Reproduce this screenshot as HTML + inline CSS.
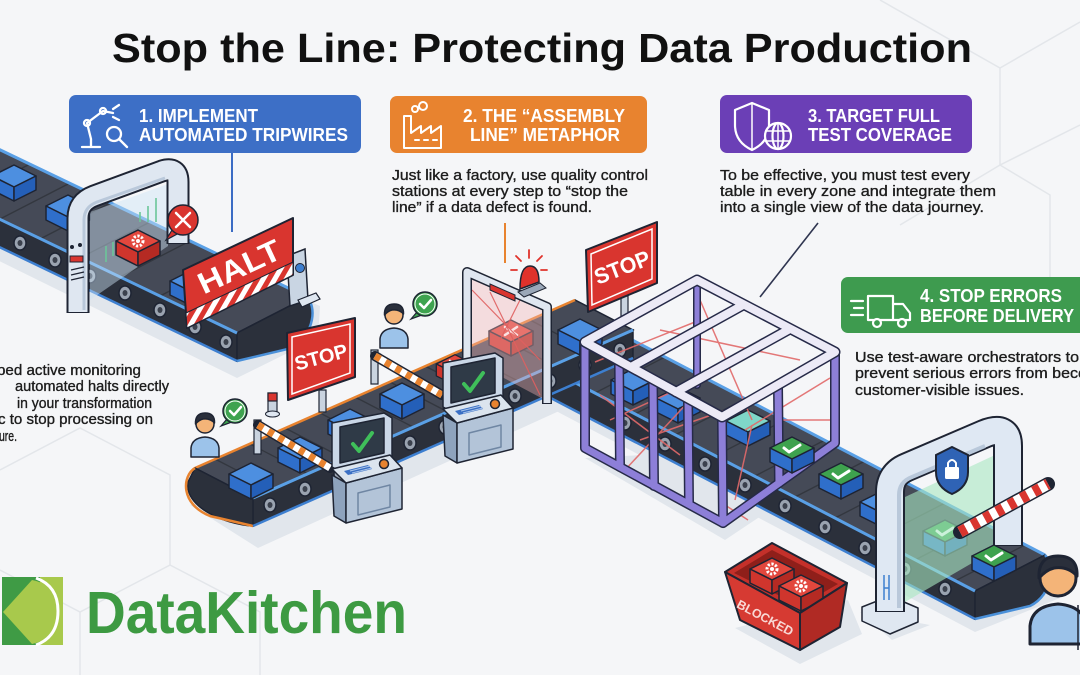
<!DOCTYPE html>
<html><head><meta charset="utf-8"><style>
html,body{margin:0;padding:0;background:#f5f6f8;}
svg{display:block;}
text{font-family:"Liberation Sans",Arial,sans-serif;}
</style></head><body>
<svg width="1080" height="675" viewBox="0 0 1080 675" xmlns="http://www.w3.org/2000/svg">
<defs>
 <pattern id="hz" width="10" height="10" patternUnits="userSpaceOnUse" patternTransform="rotate(30)"><rect width="10" height="10" fill="#fff"/><rect width="5" height="10" fill="#d9352f"/></pattern>
 <g id="roll"><ellipse rx="6" ry="7" fill="#9aa3b0" stroke="#1e2433" stroke-width="1.5"/><ellipse rx="2.5" ry="3" fill="#3b414d"/></g>
 <g id="cb" stroke="#1e2433" stroke-width="1.5" stroke-linejoin="round">
  <path d="M-22,0L0,-11L22,0L0,11Z" fill="#4d8fe0"/>
  <path d="M-22,0L0,11L0,25L-22,14Z" fill="#2f6fcb"/>
  <path d="M0,11L22,0L22,14L0,25Z" fill="#245fb8"/>
 </g>
 <g id="cg" stroke="#1e2433" stroke-width="1.5" stroke-linejoin="round">
  <path d="M-22,0L0,-11L22,0L0,11Z" fill="#3ea24e"/>
  <path d="M-22,0L0,11L0,25L-22,14Z" fill="#2f6fcb"/>
  <path d="M0,11L22,0L22,14L0,25Z" fill="#245fb8"/>
  <path d="M-8,0L-3,4L8,-3" fill="none" stroke="#fff" stroke-width="3" stroke-linecap="round"/>
 </g>
 <g id="cc" stroke="#1e2433" stroke-width="1.5" stroke-linejoin="round">
  <path d="M-22,0L0,-11L22,0L0,11Z" fill="#7fd6c8"/>
  <path d="M-22,0L0,11L0,25L-22,14Z" fill="#2f6fcb"/>
  <path d="M0,11L22,0L22,14L0,25Z" fill="#245fb8"/>
 </g>
 <g id="cr" stroke="#1e2433" stroke-width="1.5" stroke-linejoin="round">
  <path d="M-22,0L0,-11L22,0L0,11Z" fill="#e2473d"/>
  <path d="M-22,0L0,11L0,25L-22,14Z" fill="#cf352d"/>
  <path d="M0,11L22,0L22,14L0,25Z" fill="#b52a23"/>
  <path d="M-6,-4L6,4M6,-4L-6,4" fill="none" stroke="#fff" stroke-width="2.5" stroke-linecap="round"/>
 </g>
 <g id="cgear" stroke="#1e2433" stroke-width="1.5" stroke-linejoin="round">
  <path d="M-22,0L0,-11L22,0L0,11Z" fill="#e2473d"/>
  <path d="M-22,0L0,11L0,25L-22,14Z" fill="#cf352d"/>
  <path d="M0,11L22,0L22,14L0,25Z" fill="#b52a23"/>
  <circle r="5" fill="none" stroke="#fff" stroke-width="3" stroke-dasharray="2.2 1.6"/>
  <circle r="2" fill="#fff" stroke="none"/>
 </g>
 <g id="person" stroke="#1e2433" stroke-width="1.5" stroke-linejoin="round">
  <path d="M-14,33L-14,24Q-13,14 0,13Q13,14 14,24L14,33Z" fill="#9cc3ea"/>
  <circle r="9" fill="#f4b478"/>
  <path d="M-9.5,0Q-10,-11 0,-11Q10,-11 9.5,-1Q5,-6 -2,-5Q-6,-4 -9.5,0Z" fill="#2a2f3b"/>
 </g>
 <g id="bub">
  <path d="M-8,8L-14,15L-3,11Z" fill="#3ea34f" stroke="#1e2433" stroke-width="1.2"/>
  <circle r="12" fill="#3ea34f" stroke="#1e2433" stroke-width="1.5"/>
  <circle r="10" fill="none" stroke="#fff" stroke-width="1"/>
  <path d="M-5,0L-1,4L6,-4" fill="none" stroke="#fff" stroke-width="2.5" stroke-linecap="round" stroke-linejoin="round"/>
 </g>
 <g id="kiosk" stroke="#1e2433" stroke-width="1.5" stroke-linejoin="round">
  <polygon points="0,10 52,0 60,5 60,46 8,58 0,54" fill="#cad7e7"/>
  <polygon points="8,14 52,5 52,40 8,50" fill="#2f3a47"/>
  <polyline points="21,31 27,38 40,20" fill="none" stroke="#3fbf5a" stroke-width="4" stroke-linecap="round"/>
  <polygon points="0,62 14,70 14,110 2,103" fill="#8ea3bd"/>
  <polygon points="14,70 70,55 70,96 14,110" fill="#b3c4d8"/>
  <polygon points="26,80 58,72 58,94 26,102" fill="none" stroke="#6f86a3"/>
  <polygon points="0,56 58,42 70,55 14,70" fill="#dbe4ee"/>
  <g fill="#3a6fc4" stroke="none">
   <polygon points="12,58 36,52 40,56 16,62"/>
  </g>
  <path d="M18,58L38,53M20,60L40,55" stroke="#a9c4ea" stroke-width="1"/>
  <circle cx="52" cy="51" r="4.5" fill="#e8832f"/>
 </g>
</defs>

<!-- background -->
<rect width="1080" height="675" fill="#f5f6f8"/>
<g stroke="#e3e6ea" stroke-width="1.5" fill="none">
 <path d="M880,0 L1000,68 L1080,22"/>
 <path d="M1000,68 L1000,165 L1080,125"/>
 <path d="M1000,165 L1050,195 L1050,290"/>
 <path d="M1000,165 L900,225"/>
 <path d="M0,470 L80,428 L170,475 L170,565 L80,612 L0,570"/>
 <path d="M170,565 L260,612 L260,675"/>
 <path d="M80,612 L80,675"/>
</g>

<!-- shadows -->
<g fill="#e1e6ec">
 <polygon points="-80,222 237,378 318,338 320,306 0,165"/>
 <polygon points="190,505 258,548 645,372 600,330"/>
 <polygon points="520,392 975,632 1060,598 1060,570 600,345"/>
 <polygon points="585,458 725,540 852,455 838,445"/>
 <polygon points="735,628 800,664 862,634 848,600"/>
 <polygon points="860,612 892,640 930,625"/>
</g>

<!-- ===== TOP-LEFT CONVEYOR ===== -->
<polygon points="-10,145 307,297 237,333 -80,181" fill="#454a57" stroke="#1e2433" stroke-width="1.5"/>
<g stroke="#33373f" stroke-width="1.3">
 <line x1="30" y1="164" x2="-40" y2="200"/><line x1="70" y1="183" x2="0" y2="219"/>
 <line x1="110" y1="203" x2="40" y2="239"/><line x1="150" y1="222" x2="80" y2="258"/>
 <line x1="190" y1="241" x2="120" y2="277"/><line x1="230" y1="260" x2="160" y2="296"/>
 <line x1="270" y1="279" x2="200" y2="315"/>
</g>
<line x1="-10" y1="145" x2="307" y2="297" stroke="#5aa0e6" stroke-width="3"/>
<polygon points="-80,181 237,333 237,361 -80,209" fill="#2b303b" stroke="#1e2433" stroke-width="1.5"/>
<path d="M307,297 C316,306 316,332 292,348 L237,361 L237,333 Z" fill="#2b303b" stroke="#1e2433" stroke-width="1.5"/>
<path d="M307,297 C316,306 316,332 292,348 L237,361" fill="none" stroke="#4a90d9" stroke-width="2.5"/>
<line x1="-80" y1="181" x2="237" y2="333" stroke="#5aa0e6" stroke-width="3"/>
<line x1="-80" y1="209" x2="237" y2="361" stroke="#3d7fd0" stroke-width="2.5"/>
<use href="#roll" x="20" y="243"/><use href="#roll" x="55" y="260"/><use href="#roll" x="90" y="276"/>
<use href="#roll" x="125" y="293"/><use href="#roll" x="160" y="310"/><use href="#roll" x="195" y="327"/><use href="#roll" x="226" y="342"/>
<use href="#cb" x="14" y="176"/>
<use href="#cb" x="68" y="206"/>
<!-- glass -->
<polygon points="90,212 168,184 168,246 90,300" fill="#cfe4f6" opacity="0.45"/>
<g stroke="#6cc79a" stroke-width="2" opacity="0.8">
 <line x1="106" y1="246" x2="106" y2="262"/><line x1="113" y1="242" x2="113" y2="256"/><line x1="140" y1="212" x2="140" y2="222"/><line x1="148" y1="206" x2="148" y2="222"/><line x1="156" y1="198" x2="156" y2="222"/>
</g>
<!-- arch -->
<path d="M78,313 L78,218 Q78,202 94,196 L162,171 Q178,166 178,182 L178,244" fill="none" stroke="#1e2433" stroke-width="23" stroke-linejoin="round"/>
<path d="M78,312 L78,218 Q78,202 94,196 L162,171 Q178,166 178,182 L178,243" fill="none" stroke="#dfe7f1" stroke-width="19" stroke-linejoin="round"/>
<path d="M84,310 L84,220 Q84,207 97,202 L165,178" fill="none" stroke="#b9c8da" stroke-width="3"/>
<rect x="70" y="256" width="13" height="6" fill="#d9352f" stroke="#1e2433"/>
<circle cx="72" cy="247" r="2" fill="#1e2433"/><circle cx="80" cy="245" r="2" fill="#1e2433"/>
<path d="M71,270 L84,267 M71,275 L84,272 M71,280 L84,277" stroke="#1e2433" stroke-width="1.2"/>
<use href="#cgear" x="138" y="241"/>
<use href="#cb" x="192" y="281"/>
<!-- tool bubble -->
<path d="M172,230 L166,240 L179,233 Z" fill="#d9352f" stroke="#1e2433" stroke-width="1.2"/>
<circle cx="183" cy="220" r="15" fill="#d9352f" stroke="#1e2433" stroke-width="1.5"/>
<path d="M176,213 L190,227 M190,213 L176,227" stroke="#fff" stroke-width="2.5" stroke-linecap="round"/>
<!-- right support -->
<polygon points="287,256 305,249 308,300 290,306" fill="#c9d5e3" stroke="#1e2433" stroke-width="1.5"/>
<circle cx="300" cy="268" r="4.5" fill="#3d7fd0" stroke="#1e2433"/>
<polygon points="298,300 316,293 320,299 302,307" fill="#dfe7f1" stroke="#1e2433" stroke-width="1.2"/>
<!-- HALT -->
<polygon points="183,270 293,218 293,275 187,328" fill="#d9352f" stroke="#1e2433" stroke-width="2" stroke-linejoin="round"/>
<polygon points="186,313 293,262 293,275 187,328" fill="url(#hz)" stroke="#1e2433" stroke-width="1"/>
<text transform="translate(239,266) rotate(-25)" y="11" font-size="30" font-weight="bold" fill="#fff" text-anchor="middle" textLength="88" lengthAdjust="spacingAndGlyphs">HALT</text>

<!-- ===== RIGHT CONVEYOR ===== -->
<polygon points="590,318 1045,555 975,591 520,354" fill="#454a57" stroke="#1e2433" stroke-width="1.5"/>
<g stroke="#33373f" stroke-width="1.3">
 <line x1="625" y1="336" x2="555" y2="372"/><line x1="665" y1="357" x2="595" y2="393"/>
 <line x1="705" y1="378" x2="635" y2="414"/><line x1="745" y1="399" x2="675" y2="435"/>
 <line x1="785" y1="420" x2="715" y2="456"/><line x1="825" y1="440" x2="755" y2="476"/>
 <line x1="865" y1="461" x2="795" y2="497"/><line x1="905" y1="482" x2="835" y2="518"/>
 <line x1="945" y1="503" x2="875" y2="539"/><line x1="985" y1="524" x2="915" y2="560"/>
 <line x1="1025" y1="545" x2="955" y2="581"/>
</g>
<line x1="590" y1="318" x2="1045" y2="555" stroke="#5aa0e6" stroke-width="3"/>
<polygon points="520,354 975,591 975,619 520,382" fill="#2b303b" stroke="#1e2433" stroke-width="1.5"/>
<path d="M1045,555 C1054,564 1054,594 1030,606 L975,619 L975,591 Z" fill="#2b303b" stroke="#1e2433" stroke-width="1.5"/>
<path d="M1045,555 C1054,564 1054,594 1030,606 L975,619" fill="none" stroke="#4a90d9" stroke-width="2.5"/>
<line x1="520" y1="354" x2="975" y2="591" stroke="#5aa0e6" stroke-width="3"/>
<line x1="520" y1="382" x2="975" y2="619" stroke="#3d7fd0" stroke-width="2.5"/>
<use href="#roll" x="625" y="423"/><use href="#roll" x="665" y="444"/><use href="#roll" x="705" y="464"/>
<use href="#roll" x="745" y="485"/><use href="#roll" x="785" y="506"/><use href="#roll" x="825" y="527"/>
<use href="#roll" x="865" y="548"/><use href="#roll" x="905" y="569"/><use href="#roll" x="945" y="589"/>
<!-- boxes inside cage -->
<use href="#cb" x="633" y="380"/>
<use href="#cb" x="678" y="398"/>
<use href="#cc" x="748" y="421"/>

<!-- ===== MIDDLE CONVEYOR ===== -->
<polygon points="195,468 575,300 633,330 253,498" fill="#454a57" stroke="#1e2433" stroke-width="1.5"/>
<g stroke="#33373f" stroke-width="1.3">
 <line x1="215" y1="459" x2="273" y2="489"/><line x1="250" y1="444" x2="308" y2="474"/>
 <line x1="285" y1="428" x2="343" y2="458"/><line x1="320" y1="413" x2="378" y2="443"/>
 <line x1="355" y1="397" x2="413" y2="427"/><line x1="390" y1="382" x2="448" y2="412"/>
 <line x1="425" y1="366" x2="483" y2="396"/><line x1="460" y1="351" x2="518" y2="381"/>
 <line x1="495" y1="335" x2="553" y2="365"/><line x1="530" y1="320" x2="588" y2="350"/>
</g>
<line x1="195" y1="468" x2="575" y2="300" stroke="#e8832f" stroke-width="2.5"/>
<polygon points="253,498 633,330 633,358 253,526" fill="#2b303b" stroke="#1e2433" stroke-width="1.5"/>
<path d="M195,468 L253,498 L253,526 C222,524 184,506 188,482 Z" fill="#2b303b" stroke="#1e2433" stroke-width="1.5"/>
<path d="M195,468 C182,476 180,504 210,516 L253,526" fill="none" stroke="#e8832f" stroke-width="2.5"/>
<line x1="253" y1="498" x2="633" y2="330" stroke="#5aa0e6" stroke-width="3"/>
<line x1="253" y1="526" x2="633" y2="358" stroke="#3d7fd0" stroke-width="2.5"/>
<use href="#roll" x="270" y="505"/><use href="#roll" x="305" y="489"/><use href="#roll" x="340" y="474"/>
<use href="#roll" x="375" y="458"/><use href="#roll" x="410" y="443"/><use href="#roll" x="445" y="427"/>
<use href="#roll" x="480" y="412"/><use href="#roll" x="515" y="396"/><use href="#roll" x="550" y="381"/>
<use href="#roll" x="585" y="365"/><use href="#roll" x="620" y="350"/>
<use href="#cb" x="580" y="330"/>
<use href="#cb" x="402" y="394"/>
<use href="#cb" x="350" y="420"/>
<use href="#cb" x="300" y="448"/>
<use href="#cb" x="251" y="474"/>
<use href="#cr" x="511" y="331"/>
<use href="#cr" x="455" y="364" transform="translate(455,364) scale(0.85) translate(-455,-364)"/>

<!-- red scanner gate -->
<polygon points="470,278 545,312 545,400 470,360" fill="#f2b6b6" opacity="0.4"/>
<g stroke="#e06060" stroke-width="1.2" opacity="0.9">
 <line x1="472" y1="290" x2="540" y2="360"/><line x1="490" y1="292" x2="540" y2="395"/><line x1="520" y1="300" x2="500" y2="340"/>
</g>
<path d="M467,362 L467,272 L547,307 L547,404" fill="none" stroke="#1e2433" stroke-width="10" stroke-linejoin="round"/>
<path d="M467,361 L467,272 L547,307 L547,403" fill="none" stroke="#dfe6f0" stroke-width="7" stroke-linejoin="round"/>
<polygon points="490,284 515,295 515,301 490,290" fill="#d9352f" stroke="#1e2433"/>
<polygon points="518,292 540,283 546,288 524,297" fill="#9aa7b8" stroke="#1e2433"/>
<path d="M520,289 Q520,266 530,266 Q539,266 539,282 Z" fill="#e0322b" stroke="#1e2433" stroke-width="1.5"/>
<g stroke="#e0322b" stroke-width="1.8" stroke-linecap="round">
 <line x1="529" y1="250" x2="529" y2="258"/><line x1="516" y1="256" x2="521" y2="261"/><line x1="542" y1="256" x2="537" y2="261"/>
 <line x1="511" y1="270" x2="517" y2="270"/><line x1="547" y1="270" x2="541" y2="270"/>
</g>

<!-- barriers & small post -->
<rect x="268" y="393" width="9" height="20" fill="#c9d3df" stroke="#1e2433" stroke-width="1.2"/>
<rect x="268" y="393" width="9" height="8" fill="#d9352f" stroke="#1e2433" stroke-width="1.2"/>
<ellipse cx="272.5" cy="414" rx="7" ry="3" fill="#dfe7f1" stroke="#1e2433"/>
<rect x="254" y="420" width="7" height="34" fill="#c9d3df" stroke="#1e2433" stroke-width="1.2"/>
<line x1="258" y1="425" x2="330" y2="468" stroke="#1e2433" stroke-width="10" stroke-linecap="round"/>
<line x1="258" y1="425" x2="330" y2="468" stroke="#fff" stroke-width="7"/>
<line x1="258" y1="425" x2="330" y2="468" stroke="#e8832f" stroke-width="7" stroke-dasharray="6 6"/>
<rect x="371" y="350" width="7" height="34" fill="#c9d3df" stroke="#1e2433" stroke-width="1.2"/>
<line x1="375" y1="356" x2="442" y2="395" stroke="#1e2433" stroke-width="10" stroke-linecap="round"/>
<line x1="375" y1="356" x2="442" y2="395" stroke="#fff" stroke-width="7"/>
<line x1="375" y1="356" x2="442" y2="395" stroke="#e8832f" stroke-width="7" stroke-dasharray="6 6"/>

<!-- kiosks -->
<use href="#kiosk" x="443" y="353"/>
<use href="#kiosk" x="332" y="413"/>

<!-- persons -->
<use href="#person" x="394" y="315"/>
<use href="#bub" x="425" y="304"/>
<use href="#person" x="205" y="424"/>
<use href="#bub" x="235" y="411"/>

<!-- STOP signs -->
<rect x="319" y="390" width="7" height="22" fill="#c9d3df" stroke="#1e2433" stroke-width="1.2"/>
<polygon points="287,333 355,318 355,377 288,400" fill="#d9352f" stroke="#1e2433" stroke-width="2" stroke-linejoin="round"/>
<polygon points="292,337 350,324 350,373 292,394" fill="none" stroke="#fff" stroke-width="1.5"/>
<text transform="translate(321,357) rotate(-15)" y="7" font-size="20" font-weight="bold" fill="#fff" text-anchor="middle" textLength="54" lengthAdjust="spacingAndGlyphs">STOP</text>
<rect x="621" y="296" width="7" height="26" fill="#c9d3df" stroke="#1e2433" stroke-width="1.2"/>
<polygon points="586,250 657,222 657,283 588,312" fill="#d9352f" stroke="#1e2433" stroke-width="2" stroke-linejoin="round"/>
<polygon points="591,254 652,229 652,279 592,305" fill="none" stroke="#fff" stroke-width="1.5"/>
<text transform="translate(622,267) rotate(-21)" y="8" font-size="22" font-weight="bold" fill="#fff" text-anchor="middle" textLength="58" lengthAdjust="spacingAndGlyphs">STOP</text>

<!-- ===== CAGE ===== -->
<g stroke="#e26a6a" stroke-width="1.5" opacity="0.9">
 <line x1="595" y1="362" x2="700" y2="320"/><line x1="610" y1="420" x2="720" y2="370"/>
 <line x1="640" y1="440" x2="760" y2="398"/><line x1="600" y1="395" x2="680" y2="455"/>
 <line x1="700" y1="300" x2="752" y2="420"/><line x1="745" y1="430" x2="830" y2="378"/>
 <line x1="752" y1="425" x2="735" y2="500"/><line x1="725" y1="505" x2="748" y2="520"/>
 <line x1="660" y1="330" x2="800" y2="360"/><line x1="625" y1="470" x2="690" y2="400"/>
 <line x1="780" y1="420" x2="830" y2="420"/>
</g>
<g fill="none" stroke-linecap="round" stroke-linejoin="round">
 <line x1="697" y1="280" x2="697" y2="385" stroke="#262a48" stroke-width="8"/>
 <line x1="697" y1="280" x2="697" y2="385" stroke="#8d7fd8" stroke-width="5"/>
 <g stroke="#262a48" stroke-width="10">
  <path d="M585,342 L585,448 L723,523 L835,443 L835,352"/>
  <line x1="619" y1="361" x2="620" y2="467"/><line x1="653" y1="380" x2="654" y2="486"/>
  <line x1="688" y1="398" x2="689" y2="504"/><line x1="722" y1="417" x2="723" y2="523"/>
  <line x1="778" y1="385" x2="779" y2="483"/>
 </g>
 <g stroke="#8d7fd8" stroke-width="7">
  <path d="M585,342 L585,448 L723,523 L835,443 L835,352"/>
  <line x1="619" y1="361" x2="620" y2="467"/><line x1="653" y1="380" x2="654" y2="486"/>
  <line x1="688" y1="398" x2="689" y2="504"/><line x1="722" y1="417" x2="723" y2="523"/>
  <line x1="778" y1="385" x2="779" y2="483"/>
 </g>
 <g stroke="#262a48" stroke-width="11">
  <path d="M585,342 L697,280 L835,352 L722,417 Z"/>
  <line x1="631" y1="367" x2="743" y2="305"/><line x1="676" y1="392" x2="788" y2="330"/>
 </g>
 <g stroke="#eceaf6" stroke-width="8">
  <path d="M585,342 L697,280 L835,352 L722,417 Z"/>
  <line x1="631" y1="367" x2="743" y2="305"/><line x1="676" y1="392" x2="788" y2="330"/>
 </g>
</g>

<!-- right belt boxes -->
<use href="#cg" x="792" y="448"/>
<use href="#cg" x="841" y="474"/>
<use href="#cb" x="882" y="502"/>
<use href="#cg" x="945" y="531"/>

<!-- right gate -->
<polygon points="905,497 995,455 998,548 905,602" fill="#a9e8c2" opacity="0.6"/>
<polygon points="862,607 890,596 918,608 918,622 890,634 862,621" fill="#dfe7f1" stroke="#1e2433" stroke-width="1.5" stroke-linejoin="round"/>
<path d="M890,612 L890,492 Q890,474 907,467 L984,434 Q1008,424 1008,446 L1008,546" fill="none" stroke="#1e2433" stroke-width="30" stroke-linejoin="round"/>
<path d="M890,611 L890,492 Q890,474 907,467 L984,434 Q1008,424 1008,446 L1008,545" fill="none" stroke="#dfe8f3" stroke-width="26" stroke-linejoin="round"/>
<path d="M899,608 L899,495 Q899,482 912,477 L985,446" fill="none" stroke="#b9c8da" stroke-width="4"/>
<path d="M884,575 L884,600 M889,575 L889,600 M884,588 L889,588" stroke="#3d7fd0" stroke-width="1.5"/>
<use href="#cg" x="994" y="556"/>
<line x1="960" y1="532" x2="1048" y2="484" stroke="#1e2433" stroke-width="14" stroke-linecap="round"/>
<line x1="960" y1="532" x2="1048" y2="484" stroke="#fff" stroke-width="11"/>
<line x1="960" y1="532" x2="1048" y2="484" stroke="#d9352f" stroke-width="11" stroke-dasharray="7 7"/>
<path d="M936,455 L952,447 L968,455 L968,472 Q968,487 952,494 Q936,487 936,472 Z" fill="#2f63b5" stroke="#1e2433" stroke-width="2"/>
<path d="M948,468 L948,463 Q952,457 956,463 L956,468" fill="none" stroke="#fff" stroke-width="2"/>
<rect x="945" y="467" width="14" height="12" rx="1.5" fill="#fff"/>

<!-- blocked bin -->
<polygon points="725,572 772,543 847,583 800,613" fill="#c4302a" stroke="#1e2433" stroke-width="2" stroke-linejoin="round"/>
<polygon points="734,573 772,550 838,584 800,606" fill="#8f1f1a"/>
<use href="#cgear" x="772" y="569"/>
<use href="#cgear" x="801" y="586"/>
<polygon points="725,572 800,613 800,650 740,620" fill="#d63a32" stroke="#1e2433" stroke-width="2" stroke-linejoin="round"/>
<polygon points="800,613 847,583 840,627 800,650" fill="#b02a24" stroke="#1e2433" stroke-width="2" stroke-linejoin="round"/>
<text transform="translate(765,618) rotate(28)" y="4" font-size="12.5" font-weight="bold" fill="#f8d8d5" text-anchor="middle" textLength="62" lengthAdjust="spacingAndGlyphs">BLOCKED</text>

<!-- right person -->
<use href="#person" transform="translate(1058,578) scale(2)"/>
<line x1="1078" y1="605" x2="1078" y2="650" stroke="#1e2433" stroke-width="1.5"/>

<!-- ===== CONNECTOR LINES ===== -->
<line x1="232" y1="153" x2="232" y2="232" stroke="#3b6cc4" stroke-width="2"/>
<line x1="505" y1="223" x2="505" y2="263" stroke="#e8832f" stroke-width="2"/>
<line x1="818" y1="223" x2="760" y2="297" stroke="#2f3550" stroke-width="1.6"/>

<!-- ===== TITLE ===== -->
<text x="112" y="62" font-size="41" font-weight="bold" fill="#111" textLength="860" lengthAdjust="spacingAndGlyphs">Stop the Line: Protecting Data Production</text>

<!-- ===== CALLOUT BOXES ===== -->
<rect x="69" y="95" width="292" height="58" rx="7" fill="#3d6fc6"/>
<g stroke="#fff" stroke-width="2.3" fill="none" stroke-linecap="round" stroke-linejoin="round">
 <path d="M82,147 L100,147 M91,147 L91,139 L87,123 L103,111 L113,113"/>
 <circle cx="87" cy="123" r="3"/><circle cx="103" cy="111" r="3"/>
 <path d="M113,109 L119,105 M113,117 L119,120"/>
 <circle cx="114" cy="134" r="7"/><path d="M119,139 L127,147"/>
</g>
<text x="139" y="122" font-size="18" font-weight="bold" fill="#fff" textLength="119" lengthAdjust="spacingAndGlyphs">1. IMPLEMENT</text>
<text x="139" y="141" font-size="18" font-weight="bold" fill="#fff" textLength="209" lengthAdjust="spacingAndGlyphs">AUTOMATED TRIPWIRES</text>

<rect x="390" y="96" width="257" height="57" rx="7" fill="#e8832f"/>
<g stroke="#fff" stroke-width="2" fill="none" stroke-linejoin="round" stroke-linecap="round">
 <path d="M404,148 L404,116 L411,116 L411,133 L421,126 L421,133 L431,126 L431,133 L441,126 L441,148 Z"/>
 <circle cx="415" cy="109" r="3"/><circle cx="423" cy="106" r="4"/>
 <path d="M415,140 h4 M424,140 h4 M433,140 h4"/>
</g>
<text x="463" y="122" font-size="18" font-weight="bold" fill="#fff" textLength="162" lengthAdjust="spacingAndGlyphs">2. THE “ASSEMBLY</text>
<text x="470" y="141" font-size="18" font-weight="bold" fill="#fff" textLength="150" lengthAdjust="spacingAndGlyphs">LINE” METAPHOR</text>

<rect x="720" y="95" width="252" height="58" rx="7" fill="#6b3fb6"/>
<g stroke="#fff" stroke-width="2.2" fill="none" stroke-linejoin="round">
 <path d="M735,110 L752,103 L769,110 L769,125 Q769,142 752,150 Q735,142 735,125 Z"/>
 <path d="M752,103 L752,150" stroke-width="1.5"/>
 <circle cx="778" cy="136" r="13" fill="#6b3fb6"/>
 <ellipse cx="778" cy="136" rx="5.5" ry="13"/>
 <path d="M765,131 H791 M765,141 H791 M778,123 V149" stroke-width="1.5"/>
</g>
<text x="808" y="122" font-size="18" font-weight="bold" fill="#fff" textLength="132" lengthAdjust="spacingAndGlyphs">3. TARGET FULL</text>
<text x="808" y="141" font-size="18" font-weight="bold" fill="#fff" textLength="144" lengthAdjust="spacingAndGlyphs">TEST COVERAGE</text>

<rect x="841" y="277" width="250" height="56" rx="7" fill="#3e9b4f"/>
<g stroke="#fff" stroke-width="2.2" fill="none" stroke-linejoin="round" stroke-linecap="round">
 <path d="M868,296 H893 V320 H868 Z"/>
 <path d="M893,304 H903 L910,313 V320 H893"/>
 <circle cx="877" cy="323" r="4" fill="#3e9b4f"/><circle cx="902" cy="323" r="4" fill="#3e9b4f"/>
 <path d="M851,301 H863 M854,308 H863 M851,315 H863"/>
</g>
<text x="920" y="302" font-size="18" font-weight="bold" fill="#fff" textLength="142" lengthAdjust="spacingAndGlyphs">4. STOP ERRORS</text>
<text x="920" y="322" font-size="18" font-weight="bold" fill="#fff" textLength="154" lengthAdjust="spacingAndGlyphs">BEFORE DELIVERY</text>

<!-- ===== PARAGRAPHS ===== -->
<g font-size="15" fill="#1c1c1c" stroke="#1c1c1c" stroke-width="0.35">
 <text x="392" y="180" textLength="256" lengthAdjust="spacingAndGlyphs">Just like a factory, use quality control</text>
 <text x="392" y="196" textLength="236" lengthAdjust="spacingAndGlyphs">stations at every step to “stop the</text>
 <text x="392" y="212" textLength="200" lengthAdjust="spacingAndGlyphs">line” if a data defect is found.</text>

 <text x="720" y="180" textLength="250" lengthAdjust="spacingAndGlyphs">To be effective, you must test every</text>
 <text x="720" y="196" textLength="276" lengthAdjust="spacingAndGlyphs">table in every zone and integrate them</text>
 <text x="720" y="212" textLength="264" lengthAdjust="spacingAndGlyphs">into a single view of the data journey.</text>

 <text x="855" y="362" textLength="224" lengthAdjust="spacingAndGlyphs">Use test-aware orchestrators to</text>
 <text x="855" y="378" textLength="232" lengthAdjust="spacingAndGlyphs">prevent serious errors from beco</text>
 <text x="855" y="395" textLength="169" lengthAdjust="spacingAndGlyphs">customer-visible issues.</text>

 <text x="-3" y="375" textLength="144" lengthAdjust="spacingAndGlyphs">bed active monitoring</text>
 <text x="15" y="391" textLength="154" lengthAdjust="spacingAndGlyphs">automated halts directly</text>
 <text x="17" y="408" textLength="135" lengthAdjust="spacingAndGlyphs">in your transformation</text>
 <text x="-2" y="424" textLength="155" lengthAdjust="spacingAndGlyphs">c to stop processing on</text>
 <text x="-1" y="441" textLength="18" lengthAdjust="spacingAndGlyphs">ure.</text>
</g>

<!-- ===== LOGO ===== -->
<rect x="2" y="577" width="61" height="68" fill="#a8c94c"/>
<rect x="2" y="577" width="38" height="68" fill="#3f9b45"/>
<path d="M3,612 L32,580 Q55,584 56,611 Q55,640 32,644 Z" fill="#a8c94c"/>
<path d="M36,578 Q58,586 58,611 Q58,637 36,645" fill="none" stroke="#fff" stroke-width="3"/>
<text x="86" y="633" font-size="59" font-weight="bold" fill="#3d9a42" textLength="321" lengthAdjust="spacingAndGlyphs">DataKitchen</text>
</svg>
</body></html>
